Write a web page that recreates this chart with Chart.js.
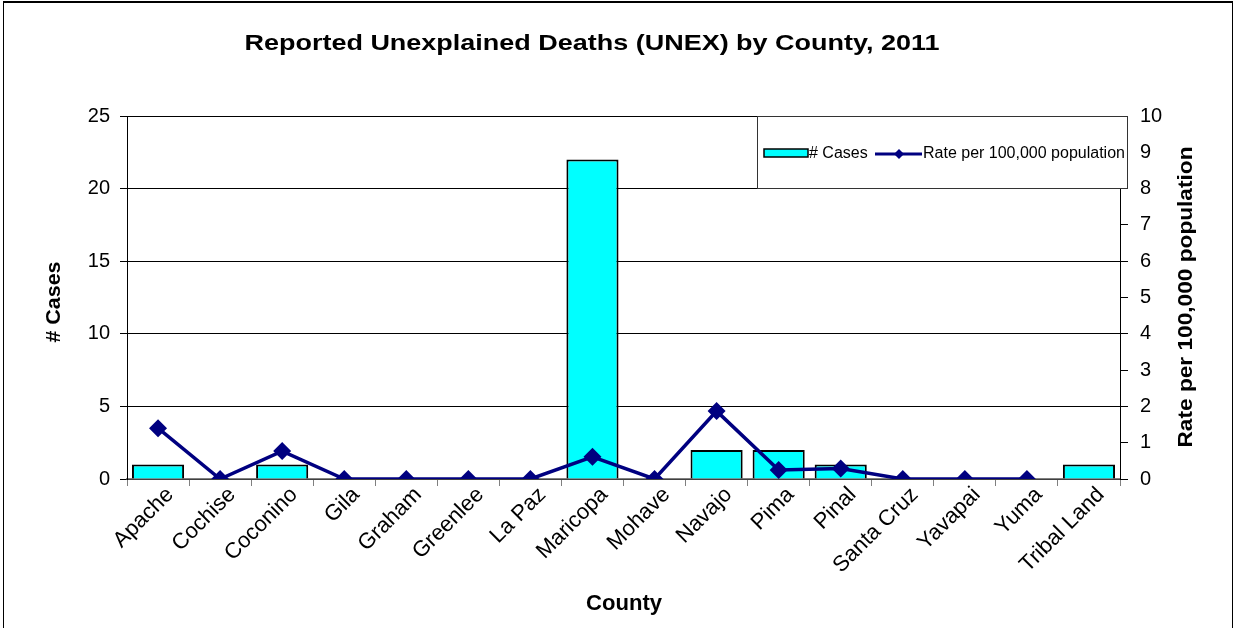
<!DOCTYPE html>
<html>
<head>
<meta charset="utf-8">
<script src="https://cdn.jsdelivr.net/npm/chart.js@4.4.1/dist/chart.umd.min.js"></script>
<style>
  body { margin: 0; background: #fff; }
  #wrap { position: relative; width: 1238px; height: 628px; }
  #frame { position: absolute; left: 3px; top: 1px; width: 1228px; height: 640px; border: 1px solid #000; border-top-width: 2px; pointer-events: none; }
</style>
</head>
<body>
<div id="wrap">
  <canvas id="myChart" width="1238" height="628"></canvas>
  <div id="frame"></div>
</div>
<script>
const counties = ['Apache', 'Cochise', 'Coconino', 'Gila', 'Graham', 'Greenlee', 'La Paz', 'Maricopa',
    'Mohave', 'Navajo', 'Pima', 'Pinal', 'Santa Cruz', 'Yavapai', 'Yuma', 'Tribal Land'];
const cases = [1, 0, 1, 0, 0, 0, 0, 22, 0, 2, 2, 1, 0, 0, 0, 1];
const ratePer100k = [1.40, 0, 0.77, 0, 0, 0, 0, 0.61, 0, 1.87, 0.25, 0.29, 0, 0, 0, null];
const casesTicks = [0, 5, 10, 15, 20, 25];
const rateTicks = [0, 1, 2, 3, 4, 5, 6, 7, 8, 9, 10];

const FONT = '"Liberation Sans", Arial, sans-serif';
const NAVY = '#000080';
const CYAN = '#00FFFF';

// draw text squeezed/stretched to a given width
function fitText(ctx, text, x, y, width, font, angle) {
    ctx.save();
    ctx.font = font;
    ctx.fillStyle = '#000';
    ctx.textAlign = 'center';
    ctx.textBaseline = 'middle';
    ctx.translate(x, y);
    if (angle) ctx.rotate(angle);
    const w = ctx.measureText(text).width;
    ctx.scale(width / w, 1);
    ctx.fillText(text, 0, 0);
    ctx.restore();
}

const extras = {
    id: 'extras',
    afterDraw(chart) {
        const ctx = chart.ctx;
        // titles
        fitText(ctx, 'Reported Unexplained Deaths (UNEX) by County, 2011', 592, 44, 695, 'bold 22px ' + FONT);
        fitText(ctx, '# Cases', 54, 302, 81, 'bold 21px ' + FONT, -Math.PI / 2);
        fitText(ctx, 'Rate per 100,000 population', 1186, 297, 301, 'bold 21px ' + FONT, -Math.PI / 2);
        fitText(ctx, 'County', 624, 604, 76, 'bold 22px ' + FONT);

        // legend box
        ctx.save();
        ctx.fillStyle = '#fff';
        ctx.fillRect(757, 116, 370, 72);
        ctx.strokeStyle = '#333';
        ctx.lineWidth = 1;
        ctx.strokeRect(757.5, 116.5, 370, 72);

        const bar = chart.data.datasets[1];
        const line = chart.data.datasets[0];
        ctx.fillStyle = bar.backgroundColor;
        ctx.fillRect(764, 149, 44, 8);
        ctx.strokeStyle = bar.borderColor;
        ctx.lineWidth = 1.5;
        ctx.strokeRect(764, 149, 44, 8);

        ctx.font = '16px ' + FONT;
        ctx.fillStyle = '#000';
        ctx.textBaseline = 'middle';
        ctx.textAlign = 'left';
        ctx.fillText(bar.label, 809, 154);

        ctx.strokeStyle = line.borderColor;
        ctx.lineWidth = 3;
        ctx.beginPath();
        ctx.moveTo(875, 154);
        ctx.lineTo(922, 154);
        ctx.stroke();
        ctx.fillStyle = line.borderColor;
        ctx.beginPath();
        ctx.moveTo(899, 149);
        ctx.lineTo(904, 154);
        ctx.lineTo(899, 159);
        ctx.lineTo(894, 154);
        ctx.closePath();
        ctx.fill();

        ctx.fillStyle = '#000';
        ctx.fillText(line.label, 923, 154);
        ctx.restore();
    }
};

new Chart(document.getElementById('myChart'), {
    data: {
        labels: counties,
        datasets: [{
            type: 'line',
            label: 'Rate per 100,000 population',
            data: ratePer100k,
            yAxisID: 'y1',
            borderColor: NAVY,
            backgroundColor: NAVY,
            borderWidth: 3.5,
            pointStyle: 'rectRot',
            pointRadius: 9,
            pointBorderWidth: 0,
            tension: 0
        }, {
            type: 'bar',
            label: '# Cases',
            data: cases,
            yAxisID: 'y',
            backgroundColor: CYAN,
            borderColor: '#000',
            borderWidth: 2,
            barPercentage: 0.84,
            categoryPercentage: 1
        }]
    },
    options: {
        responsive: false,
        animation: false,
        layout: { padding: { top: 116, left: 0, right: 0, bottom: 0 } },
        plugins: {
            legend: { display: false },
            tooltip: { enabled: false }
        },
        scales: {
            x: {
                offset: true,
                grid: { offset: true, drawOnChartArea: false, color: '#808080', tickLength: 7 },
                border: { color: '#808080', width: 1.5 },
                ticks: {
                    color: '#000',
                    font: { family: FONT, size: 22 },
                    maxRotation: 45,
                    minRotation: 45,
                    autoSkip: false,
                    labelOffset: 12,
                    padding: -4
                },
                afterFit: s => { s.height = 628 - 479; }
            },
            y: {
                position: 'left',
                min: 0,
                max: 25,
                afterBuildTicks: s => { s.ticks = casesTicks.map(v => ({ value: v })); },
                grid: { color: '#000', tickLength: 7 },
                border: { color: '#000' },
                ticks: { color: '#000', font: { family: FONT, size: 20 }, padding: 10 },
                afterFit: s => { s.width = 127; }
            },
            y1: {
                position: 'right',
                min: 0,
                max: 10,
                afterBuildTicks: s => { s.ticks = rateTicks.map(v => ({ value: v })); },
                grid: { drawOnChartArea: false, color: '#000', tickLength: 8 },
                border: { color: '#000' },
                ticks: { color: '#000', font: { family: FONT, size: 20 }, padding: 12 },
                afterFit: s => { s.width = 1238 - 1120; }
            }
        }
    },
    plugins: [extras]
});
</script>
</body>
</html>
